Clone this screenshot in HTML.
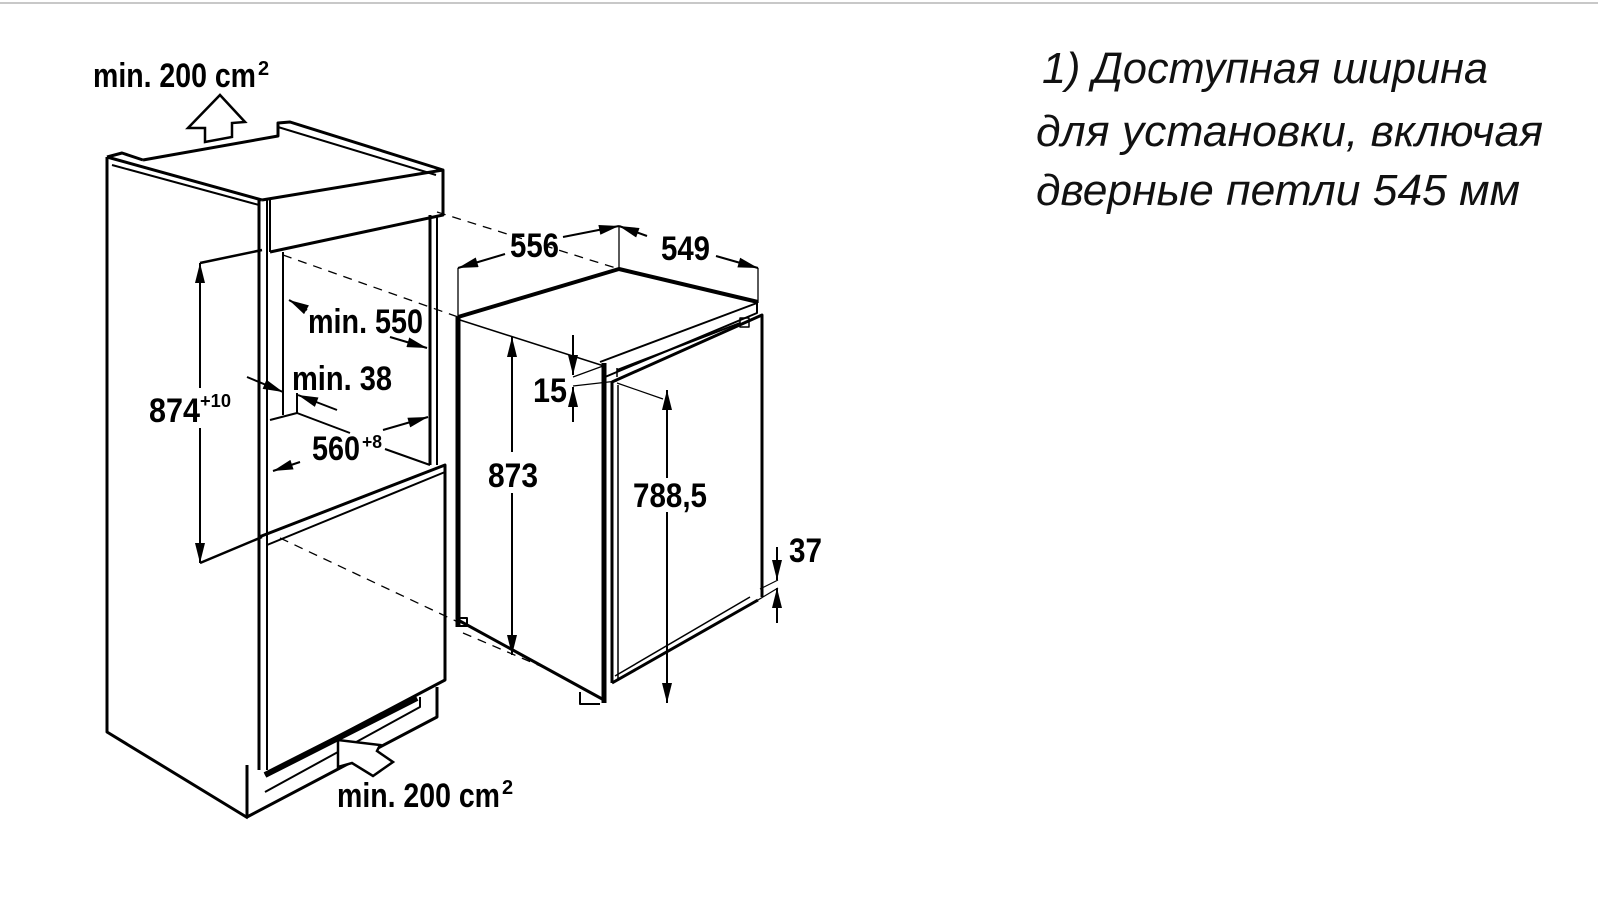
<!DOCTYPE html>
<html><head><meta charset="utf-8"><style>
html,body{margin:0;padding:0;background:#fff;width:1598px;height:910px;overflow:hidden}
svg{display:block}
.d{font-family:"Liberation Sans Narrow","Liberation Sans",sans-serif;font-weight:bold;fill:#000}
.r{font-family:"Liberation Sans",sans-serif;font-style:italic;fill:#111;font-size:44px}
</style></head><body>
<svg width="1598" height="910" viewBox="0 0 1598 910" xmlns="http://www.w3.org/2000/svg">
<defs>
<marker id="b" viewBox="0 0 20 10" refX="20" refY="5" markerWidth="22" markerHeight="10" markerUnits="userSpaceOnUse" orient="auto-start-reverse"><path d="M0,0 L20,5 L0,10 z" fill="#000"/></marker>
</defs>
<line x1="0" y1="3" x2="1598" y2="3" stroke="#c8c8c8" stroke-width="2"/>

<g fill="none" stroke="#000" stroke-width="3" stroke-linejoin="round">
<path d="M107,157 L107,732 L248,818"/>
<path d="M107,157 L122,153 L143,160"/>
<path d="M107,157 L262,200"/>
<path d="M112,165 L259,205" stroke-width="2"/>
<line x1="259" y1="200" x2="259" y2="770"/>
<line x1="267" y1="200" x2="267" y2="770" stroke-width="2"/>
<path d="M143,160 L278,136 L278,123 L290,122 L443,170"/>
<path d="M278,127 L436,175" stroke-width="2"/>
<path d="M262,200 L443,170 L443,215 L270,252"/>
<line x1="270" y1="200" x2="270" y2="252" stroke-width="2"/>
<line x1="283" y1="252" x2="283" y2="415" stroke-width="2"/>
<path d="M270,420 L297,413 L297,393" stroke-width="2"/>
<path d="M297,413 L350,433" stroke-width="2"/>
<path d="M385,449 L430,465" stroke-width="2"/>
<line x1="430" y1="215" x2="430" y2="465"/>
<line x1="437" y1="215" x2="437" y2="465" stroke-width="2"/>
<path d="M259,537 L445,465 L445,680 L265,775"/>
<path d="M267,545 L445,472" stroke-width="2"/>
<path d="M247,765 L247,817 L437,717 L437,687"/>
<path d="M265,792 L420,707 L420,697" stroke-width="2"/>
<path d="M265,775 L417,698" stroke-width="6"/>
</g>
<path d="M220,95 L245,122 L232,123 L232,137 L205,142 L205,128 L188,128 Z" fill="#fff" stroke="#000" stroke-width="2.5"/>
<path d="M338,740 L338,767 L352,763 L373,776 L393,762 L377,751 L380,745 Z" fill="#fff" stroke="#000" stroke-width="2.5"/>

<g stroke="#000" stroke-width="1.3" stroke-dasharray="9,7" fill="none">
<line x1="437" y1="212" x2="619" y2="269"/>
<line x1="283" y1="255" x2="458" y2="317"/>
<line x1="280" y1="538" x2="458" y2="622"/>
<line x1="463" y1="633" x2="545" y2="668"/>
</g>

<g fill="none" stroke="#000" stroke-linejoin="round">
<path d="M458,317 L619,269 L758,302" stroke-width="4"/>
<line x1="458" y1="317" x2="458" y2="627" stroke-width="5"/>
<line x1="460" y1="320" x2="604" y2="366" stroke-width="1.5"/>
<line x1="604" y1="363" x2="604" y2="703" stroke-width="5"/>
<path d="M600,362 L757,303 L757,313 L605,377" stroke-width="2"/>
<line x1="617" y1="368" x2="617" y2="377" stroke-width="1.5"/>
<path d="M617,370 L740,323" stroke-width="2"/>
<rect x="740" y="318" width="9" height="9" stroke-width="1.5"/>
<path d="M612,382 L762,315 L762,597" stroke-width="3"/>
<line x1="612" y1="382" x2="612" y2="683" stroke-width="3"/>
<line x1="618" y1="385" x2="618" y2="680" stroke-width="1.5"/>
<path d="M458,620 L604,700" stroke-width="3"/>
<path d="M612,683 L758,600" stroke-width="3"/>
<path d="M615,676 L750,597" stroke-width="1.5"/>
<rect x="459" y="618" width="8" height="8" stroke-width="2"/>
<path d="M580,692 L580,704 L600,704" stroke-width="2"/>
</g>

<g stroke="#000" stroke-width="2" fill="none">
<line x1="458" y1="268" x2="458" y2="317" stroke-width="1.3"/>
<line x1="619" y1="226" x2="619" y2="269" stroke-width="1.3"/>
<line x1="758" y1="268" x2="758" y2="303" stroke-width="1.3"/>
<line x1="505" y1="254" x2="458" y2="268" marker-end="url(#b)"/>
<line x1="563" y1="237" x2="619" y2="226" marker-end="url(#b)"/>
<line x1="716" y1="256" x2="758" y2="268" marker-end="url(#b)"/>
<line x1="647" y1="236" x2="619" y2="226" marker-end="url(#b)"/>
<line x1="512" y1="452" x2="512" y2="337" marker-end="url(#b)"/>
<line x1="512" y1="493" x2="512" y2="655" marker-end="url(#b)"/>
<line x1="573" y1="335" x2="573" y2="375" marker-end="url(#b)"/>
<line x1="573" y1="422" x2="573" y2="387" marker-end="url(#b)"/>
<line x1="573" y1="377" x2="603" y2="366" stroke-width="1.2"/>
<line x1="573" y1="386" x2="617" y2="381" stroke-width="1.2"/>
<line x1="617" y1="383" x2="663" y2="399" stroke-width="1.2"/>
<line x1="667" y1="478" x2="667" y2="390" marker-end="url(#b)"/>
<line x1="667" y1="512" x2="667" y2="703" marker-end="url(#b)"/>
<line x1="777" y1="547" x2="777" y2="580" marker-end="url(#b)"/>
<line x1="777" y1="623" x2="777" y2="588" marker-end="url(#b)"/>
<line x1="760" y1="589" x2="778" y2="580" stroke-width="1.2"/>
<line x1="758" y1="600" x2="778" y2="588" stroke-width="1.2"/>
<line x1="200" y1="263" x2="262" y2="250" stroke-width="2.5"/>
<line x1="200" y1="563" x2="262" y2="537" stroke-width="2.5"/>
<line x1="200" y1="388" x2="200" y2="263" marker-end="url(#b)"/>
<line x1="200" y1="428" x2="200" y2="563" marker-end="url(#b)"/>
<line x1="307" y1="310" x2="289" y2="300" marker-end="url(#b)"/>
<line x1="390" y1="337" x2="427" y2="348" marker-end="url(#b)"/>
<line x1="247" y1="377" x2="283" y2="392" marker-end="url(#b)"/>
<line x1="337" y1="410" x2="298" y2="395" marker-end="url(#b)"/>
<line x1="383" y1="430" x2="428" y2="417" marker-end="url(#b)"/>
<line x1="300" y1="462" x2="273" y2="471" marker-end="url(#b)"/>
</g>

<g class="d" font-size="34">
<text x="93" y="87" textLength="163" lengthAdjust="spacingAndGlyphs">min. 200 cm</text>
<text x="258" y="75" font-size="20">2</text>
<text x="337" y="807" textLength="163" lengthAdjust="spacingAndGlyphs">min. 200 cm</text>
<text x="502" y="794" font-size="20">2</text>
<text x="510" y="257" textLength="49" lengthAdjust="spacingAndGlyphs">556</text>
<text x="661" y="260" textLength="49" lengthAdjust="spacingAndGlyphs">549</text>
<text x="488" y="487" textLength="50" lengthAdjust="spacingAndGlyphs">873</text>
<text x="533" y="402" textLength="34" lengthAdjust="spacingAndGlyphs">15</text>
<text x="633" y="507" textLength="74" lengthAdjust="spacingAndGlyphs">788,5</text>
<text x="789" y="562" textLength="33" lengthAdjust="spacingAndGlyphs">37</text>
<text x="149" y="422" textLength="51" lengthAdjust="spacingAndGlyphs">874</text>
<text x="200" y="407" font-size="18" textLength="31" lengthAdjust="spacingAndGlyphs">+10</text>
<text x="308" y="333" textLength="115" lengthAdjust="spacingAndGlyphs">min. 550</text>
<text x="292" y="390" textLength="100" lengthAdjust="spacingAndGlyphs">min. 38</text>
<text x="312" y="460" textLength="48" lengthAdjust="spacingAndGlyphs">560</text>
<text x="362" y="448" font-size="18" textLength="20" lengthAdjust="spacingAndGlyphs">+8</text>
</g>

<g class="r">
<text x="1042" y="83" textLength="446" lengthAdjust="spacingAndGlyphs">1) Доступная ширина</text>
<text x="1036" y="146" textLength="507" lengthAdjust="spacingAndGlyphs">для установки, включая</text>
<text x="1036" y="205" textLength="484" lengthAdjust="spacingAndGlyphs">дверные петли 545 мм</text>
</g>
</svg>
</body></html>
